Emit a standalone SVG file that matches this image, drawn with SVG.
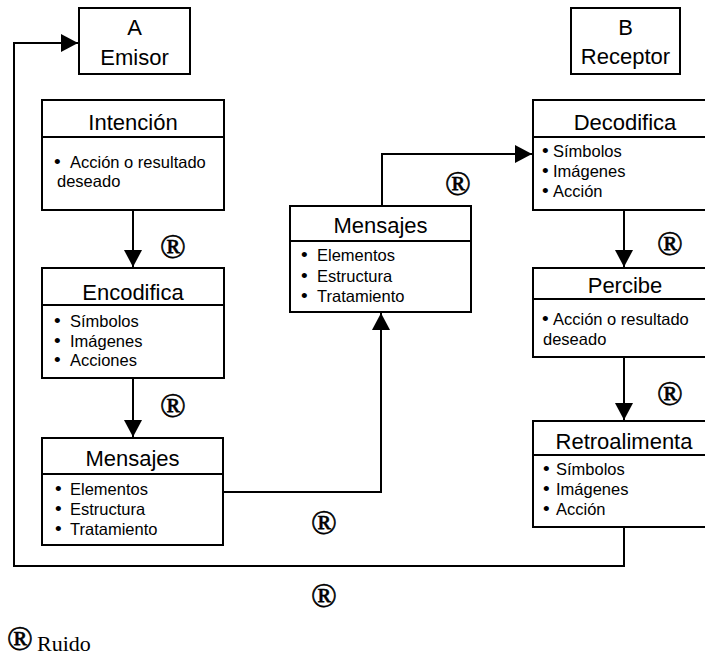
<svg xmlns="http://www.w3.org/2000/svg" width="705" height="656" viewBox="0 0 705 656">
  <style>
    .box { fill: #fff; stroke: #000; stroke-width: 2; }
    .div { stroke: #000; stroke-width: 2; }
    .title { font-family: "Liberation Sans", Arial, sans-serif; font-size: 22px; fill: #000; text-anchor: middle; }
    .item { font-family: "Liberation Sans", Arial, sans-serif; font-size: 16.5px; fill: #000; }
    .dot { font-size: 19px; }
    .noise { font-family: "Liberation Serif", "Times New Roman", serif; font-size: 34px; fill: #000; stroke: #000; stroke-width: 0.6; text-anchor: middle; }
    .legend { font-family: "Liberation Serif", "Times New Roman", serif; font-size: 22px; fill: #000; }
    .wire { fill: none; stroke: #000; stroke-width: 2; }
  </style>
  <defs>
    <marker id="head" markerUnits="userSpaceOnUse" markerWidth="18" markerHeight="18" refX="17" refY="9" orient="auto">
      <path d="M0,0 L17,9 L0,18 Z" fill="#000"/>
    </marker>
  </defs>
  <rect width="705" height="656" fill="#fff"/>

  <!-- connectors -->
  <g id="connectors">
    <path class="wire" d="M624,527 V566 H14 V43 H78" marker-end="url(#head)"/>
    <path class="wire" d="M133,210 V267" marker-end="url(#head)"/>
    <path class="wire" d="M133,378 V437" marker-end="url(#head)"/>
    <path class="wire" d="M223,492 H381 V313" marker-end="url(#head)"/>
    <path class="wire" d="M382,206 V154 H532" marker-end="url(#head)"/>
    <path class="wire" d="M624,210 V267" marker-end="url(#head)"/>
    <path class="wire" d="M624,357 V420" marker-end="url(#head)"/>
  </g>

  <!-- noise marks -->
  <g id="noise">
    <text class="noise" x="173" y="258">®</text>
    <text class="noise" x="173" y="417">®</text>
    <text class="noise" x="458" y="195">®</text>
    <text class="noise" x="670" y="255">®</text>
    <text class="noise" x="670" y="405">®</text>
    <text class="noise" x="324" y="534">®</text>
    <text class="noise" x="324" y="607">®</text>
  </g>

  <g id="emisor">
    <rect class="box" x="79" y="8" width="111" height="66"/>
    <text class="title" x="134.5" y="35">A</text>
    <text class="title" x="134.5" y="65">Emisor</text>
  </g>

  <g id="receptor">
    <rect class="box" x="571" y="8" width="109" height="66"/>
    <text class="title" x="625.5" y="35">B</text>
    <text class="title" x="625.5" y="64">Receptor</text>
  </g>

  <g id="intencion">
    <rect class="box" x="42" y="100" width="182" height="110"/>
    <line class="div" x1="42" y1="137" x2="224" y2="137"/>
    <text class="title" x="133" y="130">Intención</text>
    <text class="item" x="54" y="168"><tspan class="dot">•</tspan><tspan x="70">Acción o resultado</tspan></text>
    <text class="item" x="57" y="187">deseado</text>
  </g>

  <g id="encodifica">
    <rect class="box" x="42" y="268" width="182" height="110"/>
    <line class="div" x1="42" y1="305" x2="224" y2="305"/>
    <text class="title" x="133" y="300">Encodifica</text>
    <text class="item" x="54" y="327"><tspan class="dot">•</tspan><tspan x="70">Símbolos</tspan></text>
    <text class="item" x="54" y="346.5"><tspan class="dot">•</tspan><tspan x="70">Imágenes</tspan></text>
    <text class="item" x="54" y="366"><tspan class="dot">•</tspan><tspan x="70">Acciones</tspan></text>
  </g>

  <g id="mensajes-emisor">
    <rect class="box" x="42" y="438" width="181" height="107"/>
    <line class="div" x1="42" y1="474" x2="223" y2="474"/>
    <text class="title" x="132.5" y="466">Mensajes</text>
    <text class="item" x="55" y="495"><tspan class="dot">•</tspan><tspan x="70">Elementos</tspan></text>
    <text class="item" x="55" y="515"><tspan class="dot">•</tspan><tspan x="70">Estructura</tspan></text>
    <text class="item" x="55" y="535"><tspan class="dot">•</tspan><tspan x="70">Tratamiento</tspan></text>
  </g>

  <g id="mensajes-canal">
    <rect class="box" x="290" y="206" width="181" height="106"/>
    <line class="div" x1="290" y1="241" x2="471" y2="241"/>
    <text class="title" x="380.5" y="233">Mensajes</text>
    <text class="item" x="301" y="261"><tspan class="dot">•</tspan><tspan x="317">Elementos</tspan></text>
    <text class="item" x="301" y="282"><tspan class="dot">•</tspan><tspan x="317">Estructura</tspan></text>
    <text class="item" x="301" y="302"><tspan class="dot">•</tspan><tspan x="317">Tratamiento</tspan></text>
  </g>

  <g id="decodifica">
    <rect class="box" x="533" y="100" width="190" height="110"/>
    <line class="div" x1="533" y1="137" x2="723" y2="137"/>
    <text class="title" x="625" y="130">Decodifica</text>
    <text class="item" x="542" y="157"><tspan class="dot">•</tspan><tspan x="553">Símbolos</tspan></text>
    <text class="item" x="542" y="177"><tspan class="dot">•</tspan><tspan x="553">Imágenes</tspan></text>
    <text class="item" x="542" y="197"><tspan class="dot">•</tspan><tspan x="553">Acción</tspan></text>
  </g>

  <g id="percibe">
    <rect class="box" x="533" y="268" width="190" height="89"/>
    <line class="div" x1="533" y1="299" x2="723" y2="299"/>
    <text class="title" x="625" y="293">Percibe</text>
    <text class="item" x="542" y="325"><tspan class="dot">•</tspan><tspan x="553">Acción o resultado</tspan></text>
    <text class="item" x="543" y="345">deseado</text>
  </g>

  <g id="retroalimenta">
    <rect class="box" x="533" y="421" width="190" height="106"/>
    <line class="div" x1="533" y1="455" x2="723" y2="455"/>
    <text class="title" x="624" y="449">Retroalimenta</text>
    <text class="item" x="543" y="475"><tspan class="dot">•</tspan><tspan x="556">Símbolos</tspan></text>
    <text class="item" x="543" y="495"><tspan class="dot">•</tspan><tspan x="556">Imágenes</tspan></text>
    <text class="item" x="543" y="515"><tspan class="dot">•</tspan><tspan x="556">Acción</tspan></text>
  </g>

  <!-- legend -->
  <g id="legend">
    <text class="noise" x="20" y="650" font-size="26">®</text>
    <text class="legend" x="37" y="651">Ruido</text>
  </g>
</svg>
